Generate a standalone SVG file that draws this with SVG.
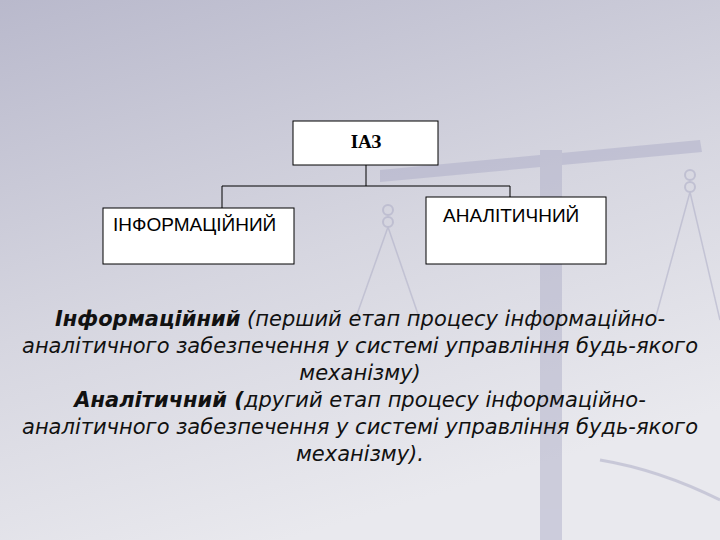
<svg xmlns="http://www.w3.org/2000/svg" width="720" height="540" viewBox="0 0 720 540">
<defs>
<linearGradient id="bg" x1="0" y1="0" x2="0.4" y2="1">
<stop offset="0" stop-color="#b9b9cc"/>
<stop offset="0.55" stop-color="#d6d6e0"/>
<stop offset="1" stop-color="#e9e9ee"/>
</linearGradient>
<style>
.box{fill:#fff;stroke:#000;stroke-width:1}
.ln{stroke:#000;stroke-width:1;fill:none}
.sc{stroke:#a9a9c4;fill:none}
.t{font-family:"DejaVu Sans",Verdana,sans-serif;font-size:21px;font-style:italic;fill:#111;text-anchor:middle}
</style>
</defs>
<rect width="720" height="540" fill="url(#bg)"/>
<g id="scales" opacity="0.5">
<path d="M380 170 L700 140 L702 152 L380 182 Z" fill="#adadc8"/>
<rect x="540" y="150" width="22" height="390" fill="#b0b0c9"/>
<circle cx="388" cy="210" r="5" class="sc" stroke-width="2"/><circle cx="388" cy="222" r="5" class="sc" stroke-width="2"/>
<circle cx="690" cy="175" r="5" class="sc" stroke-width="2"/><circle cx="690" cy="187" r="5" class="sc" stroke-width="2"/>
<path d="M388 227 L355 320 M388 227 L420 320 M690 192 L655 320 M690 192 L720 320" class="sc" stroke-width="1.5"/>
<path d="M600 460 Q660 470 720 500" class="sc" stroke-width="3"/>
</g>
<g id="connectors">
<path class="ln" d="M366 165 V186 M222 186 H510 M222 186 V208 M510 186 V197"/>
</g>
<g id="iaz"><rect class="box" x="293" y="121" width="145" height="44"/>
<text x="366" y="148" font-family="Liberation Serif,serif" font-weight="bold" font-size="19" text-anchor="middle">ІАЗ</text></g>
<g id="info"><rect class="box" x="103" y="208" width="191" height="56"/>
<text x="113" y="231" font-family="Liberation Sans,sans-serif" font-size="19">ІНФОРМАЦІЙНИЙ</text></g>
<g id="anal"><rect class="box" x="426" y="197" width="180" height="67"/>
<text x="443" y="222" font-family="Liberation Sans,sans-serif" font-size="19">АНАЛІТИЧНИЙ</text></g>
<g id="text">
<text class="t" x="360" y="326"><tspan font-weight="bold">Інформаційний</tspan> (перший етап  процесу інформаційно-</text>
<text class="t" x="360" y="353">аналітичного забезпечення у системі управління будь-якого</text>
<text class="t" x="360" y="380">механізму)</text>
<text class="t" x="360" y="407"><tspan font-weight="bold">Аналітичний (</tspan>другий етап процесу інформаційно-</text>
<text class="t" x="360" y="434">аналітичного забезпечення у системі управління будь-якого</text>
<text class="t" x="360" y="461">механізму).</text>
</g>
</svg>
